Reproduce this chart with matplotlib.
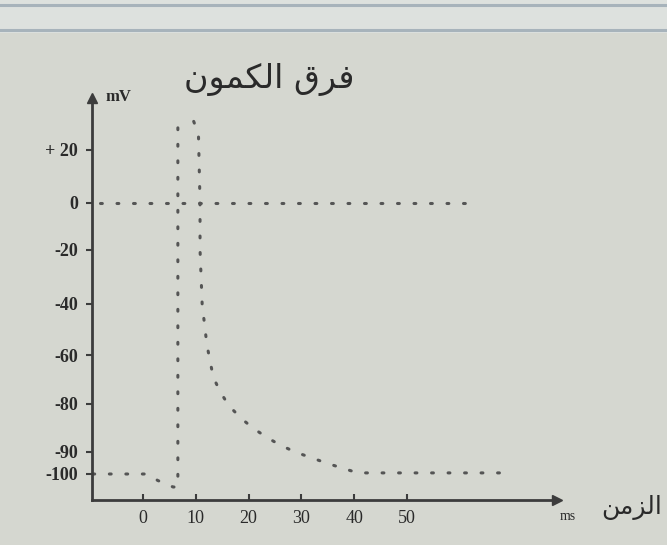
import numpy as np
import matplotlib
matplotlib.use('Agg')
import matplotlib.pyplot as plt
from matplotlib.patches import Rectangle

# membrane potential (mV) against time (ms)
rise_t = [-9.5, 0.8, 2.8, 5.7, 6.6, 6.6]
rise_mv = [-100, -100, -103, -106, -106, 31]

fall_t = [9.6, 10.5, 10.8, 10.8, 11.2, 12.1, 13.3, 14.6, 16.3, 18.6, 20.8,
          23.5, 25.9, 28.8, 32.0, 34.7, 37.7, 40.7, 43.9, 69.0]
fall_mv = [31, 26, 0, -20, -40, -56, -69, -75, -80.4, -83, -85,
           -87, -88.5, -90, -92.7, -95, -97.3, -99.5, -99.5, -99.5]

zero_t = [-8.1, 62.3]
zero_mv = [0, 0]

x_ticks = [0, 10, 20, 30, 40, 50]
y_ticks = [20, 0, -20, -40, -60, -80, -90, -100]
y_labels = ['+ 20', '0', '-20', '-40', '-60', '-80', '-90', '-100']

title_txt = 'فرق الكمون'
xlabel_txt = 'الزمن'

# the printed mV axis is not evenly spaced (-90 sits close to -100),
# so map mV to height with a piecewise scale
scale_mv = [-10000, -112, -100, -90, -80, -60, -40, -20, 0, 20, 40, 10000]
scale_pos = [45 - 9888 * 2.2, 45, 71, 93, 141, 190, 241, 295, 342, 395, 447,
             447 + 9960 * 2.6]


def mv_fwd(v):
    return np.interp(v, scale_mv, scale_pos)


def mv_inv(p):
    return np.interp(p, scale_pos, scale_mv)


# matplotlib has no Arabic shaping, so pick the joined letter forms by hand
FORMS = {  # isolated, final, initial, medial
    'ا': ('\uFE8D', '\uFE8E', None, None),
    'ر': ('\uFEAD', '\uFEAE', None, None),
    'ز': ('\uFEAF', '\uFEB0', None, None),
    'و': ('\uFEED', '\uFEEE', None, None),
    'ف': ('\uFED1', '\uFED2', '\uFED3', '\uFED4'),
    'ق': ('\uFED5', '\uFED6', '\uFED7', '\uFED8'),
    'ك': ('\uFED9', '\uFEDA', '\uFEDB', '\uFEDC'),
    'ل': ('\uFEDD', '\uFEDE', '\uFEDF', '\uFEE0'),
    'م': ('\uFEE1', '\uFEE2', '\uFEE3', '\uFEE4'),
    'ن': ('\uFEE5', '\uFEE6', '\uFEE7', '\uFEE8'),
}


def shape(text):
    out = []
    for i, ch in enumerate(text):
        if ch not in FORMS:
            out.append(ch)
            continue
        prev = text[i - 1] if i > 0 else ' '
        nxt = text[i + 1] if i + 1 < len(text) else ' '
        joins_prev = prev in FORMS and FORMS[prev][2] is not None
        joins_next = FORMS[ch][2] is not None and nxt in FORMS
        if joins_prev and joins_next:
            form = 3
        elif joins_prev:
            form = 1
        elif joins_next:
            form = 2
        else:
            form = 0
        out.append(FORMS[ch][form])
    return ''.join(reversed(out))


bg = '#d5d7d0'
ink = '#2a2a2a'
dot_col = '#555555'
W, H = 667, 545

fig = plt.figure(figsize=(W / 100, H / 100), dpi=100, facecolor=bg)

# pale strip with two rules at the top of the page
fig.add_artist(Rectangle((0, 1 - 33 / H), 1, 33 / H, transform=fig.transFigure,
                         facecolor='#dde1de', edgecolor='none'))
for yy in (5, 30):
    fig.add_artist(plt.Line2D([0, 1], [1 - yy / H, 1 - yy / H], transform=fig.transFigure,
                              color='#a7b3bb', lw=2.2))

ax = fig.add_axes([92 / W, 45 / H, (557 - 92) / W, (447 - 45) / H])
ax.set_facecolor(bg)
ax.set_yscale('function', functions=(mv_fwd, mv_inv))
ax.set_xlim(-9.66, 78.4)
ax.set_ylim(-112, 40)

dots = dict(color=dot_col, lw=2.2, linestyle=(0, (0.6, 4.8)), dash_capstyle='round')
ax.plot(zero_t, zero_mv, **dots)
ax.plot(rise_t, rise_mv, **dots)
ax.plot(fall_t, fall_mv, **dots)

for side in ('top', 'right'):
    ax.spines[side].set_visible(False)
for side in ('left', 'bottom'):
    ax.spines[side].set_color('#3c3c3c')
    ax.spines[side].set_linewidth(2)

ax.plot(0, 1, '^', transform=ax.transAxes, clip_on=False, ms=7, color='#3c3c3c')
ax.plot(1, 0, '>', transform=ax.transAxes, clip_on=False, ms=7, color='#3c3c3c')

ax.set_xticks(x_ticks)
ax.set_xticklabels([str(t) for t in x_ticks])
ax.set_yticks(y_ticks)
ax.set_yticklabels(y_labels)
ax.yaxis.set_minor_locator(plt.NullLocator())
ax.tick_params(axis='x', direction='in', length=4, width=1.5, pad=7, color='#3c3c3c',
               labelsize=13, labelcolor=ink)
ax.tick_params(axis='y', direction='out', length=4, width=1.5, pad=6, color='#3c3c3c',
               labelsize=13, labelcolor=ink)
for lab in ax.get_xticklabels() + ax.get_yticklabels():
    lab.set_family('Liberation Serif')
for lab in ax.get_yticklabels():
    lab.set_weight('bold')

fig.text(105 / W, 1 - 97 / H, 'mV', family='Liberation Serif', fontsize=12,
         weight='bold', color=ink, ha='left', va='center')
fig.text(560 / W, 1 - 516 / H, 'ms', family='Liberation Serif', fontsize=10,
         color=ink, ha='left', va='center')
fig.text(632 / W, 1 - 507 / H, shape(xlabel_txt), family='DejaVu Sans', fontsize=18,
         color=ink, ha='center', va='center')
fig.text(269 / W, 1 - 80 / H, shape(title_txt), family='DejaVu Sans', fontsize=24,
         color=ink, ha='center', va='center')

fig.savefig('out.png', dpi=100, facecolor=bg)
